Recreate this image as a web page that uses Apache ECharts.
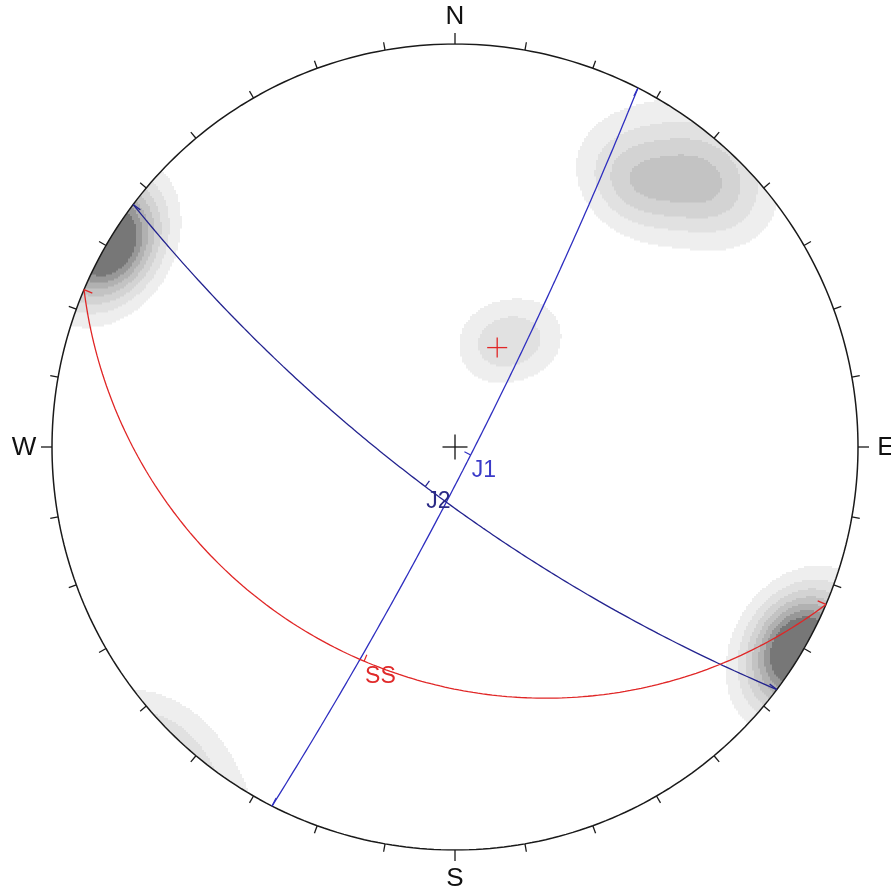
<!DOCTYPE html>
<html><head><meta charset="utf-8">
<script src="https://cdn.jsdelivr.net/npm/echarts@6.0.0/dist/echarts.min.js"></script>
<style>html,body{margin:0;padding:0;background:#fff}#c{width:891px;height:892px}</style>
</head><body><div id="c"></div>
<script>
// ---------------- data ----------------
const cardinalLabels = ['N', 'E', 'S', 'W'];
const cardinalAzimuths = [0, 90, 180, 270];
const tickAzimuths = [0,10,20,30,40,50,60,70,80,90,100,110,120,130,140,150,160,170,180,190,200,210,220,230,240,250,260,270,280,290,300,310,320,330,340,350];
// planes (dip direction / dip, degrees)
const planeNames = ['J1', 'J2', 'SS'];
const planeDipDirections = [117, 217, 203];
const planeDips = [85, 76, 30];
// pole marker (trend / plunge)
const poleTrends = [23];
const polePlunges = [60];
// density concentrations (trend, plunge, weight, spread across, spread along dip)
const kernelTrends = [120.5, 34, 44, 38, 19, 34];
const kernelPlunges = [0.3, 13, 5, 9, 60, 54];
const kernelWeights = [10, 2.6, 3.0, 1.5, 1.85, 1.85];
const kernelSpreadsAz = [6, 6.5, 6.5, 9.5, 7, 7];
const kernelSpreadsDip = [5, 5.5, 5.5, 8.5, 7.5, 7.5];
const contourLevels = [1, 2, 3, 4, 5, 6, 7];

// ---------------- styles ----------------
const levelColors = ['#eeeeee', '#e1e1e1', '#d3d3d3', '#c3c3c3', '#b1b1b1', '#989898', '#777777'];
const planeColors = ['#2f2fc0', '#23238f', '#e02626'];
const labelColors = ['#3a3ac8', '#2a2a85', '#e02a2a'];
const FONT = '"Liberation Sans", Arial, sans-serif';

// ---------------- geometry ----------------
const D2R = Math.PI / 180;
function vec(trend, plunge) {
  const t = trend * D2R, p = plunge * D2R;
  return [Math.cos(p) * Math.sin(t), Math.cos(p) * Math.cos(t), Math.sin(p)];
}
function dot(a, b) { return a[0] * b[0] + a[1] * b[1] + a[2] * b[2]; }
function project(v) { // lower hemisphere equal-angle
  let e = v[0], n = v[1], d = v[2];
  if (d < 0) { e = -e; n = -n; d = -d; }
  return [e / (1 + d), n / (1 + d)];
}

// primitive circle
const circleData = [];
for (let a = 0; a <= 360; a += 1) circleData.push([Math.sin(a * D2R), Math.cos(a * D2R)]);

// great circles
function greatCircle(dd, dip) {
  const s = vec(dd - 90, 0), dv = vec(dd, dip);
  const pts = [];
  for (let a = 0; a <= 180; a += 1) {
    const c = Math.cos(a * D2R), sn = Math.sin(a * D2R);
    pts.push(project([c * s[0] + sn * dv[0], c * s[1] + sn * dv[1], c * s[2] + sn * dv[2]]));
  }
  return pts;
}

// density
const kernels = kernelTrends.map((t, i) => ({
  c: vec(t, kernelPlunges[i]),
  ua: [Math.cos(t * D2R), -Math.sin(t * D2R), 0],
  up: vec(t, kernelPlunges[i] + 90),
  w: kernelWeights[i], sa: kernelSpreadsAz[i], sp: kernelSpreadsDip[i]
}));
function density(v) {
  let s = 0;
  for (const k of kernels) {
    let cc = dot(v, k.c), a = dot(v, k.ua), b = dot(v, k.up);
    if (cc < 0) { cc = -cc; a = -a; b = -b; }
    const ta = Math.atan2(a, cc) / D2R, tb = Math.atan2(b, cc) / D2R;
    s += k.w * Math.exp(-(ta * ta / (2 * k.sa * k.sa) + tb * tb / (2 * k.sp * k.sp)));
  }
  return s;
}
const N = 403, h = 2 / N;
const contourRects = [];
for (let j = 0; j < N; j++) {
  const yc = 1 - (j + 0.5) * h;
  const lev = new Array(N).fill(0);
  for (let i = 0; i < N; i++) {
    const xc = -1 + (i + 0.5) * h;
    const r2 = xc * xc + yc * yc;
    if (r2 > (1 + h) * (1 + h)) continue;
    const k = 1 + r2;
    const d = density([2 * xc / k, 2 * yc / k, (1 - r2) / k]);
    let L = 0;
    for (const t of contourLevels) if (d >= t) L++;
    lev[i] = L;
  }
  for (let L = 1; L <= contourLevels.length; L++) {
    let start = -1;
    for (let i = 0; i <= N; i++) {
      const on = i < N && lev[i] >= L;
      if (on && start < 0) start = i;
      if (!on && start >= 0) {
        contourRects.push([-1 + start * h, -1 + i * h, yc + h / 2, yc - h / 2, L]);
        start = -1;
      }
    }
  }
}
contourRects.sort((a, b) => a[4] - b[4]);

const dipPoints = planeNames.map((n, i) => project(vec(planeDipDirections[i], planeDips[i])).concat([i]));
const endPoints = [];
planeNames.forEach((n, i) => {
  [planeDipDirections[i] - 90, planeDipDirections[i] + 90].forEach(az => {
    endPoints.push([Math.sin(az * D2R), Math.cos(az * D2R), i]);
  });
});
const poleData = poleTrends.map((t, i) => project(vec(t, polePlunges[i])).concat([2, 10]));
poleData.push([0, 0, -1, 12.5]);

const chart = echarts.init(document.getElementById('c'));
const series = [];
series.push({
  type: 'custom', coordinateSystem: 'cartesian2d', data: contourRects, silent: true, z: 1,
  renderItem(params, api) {
    const p0 = api.coord([api.value(0), api.value(2)]);
    const p1 = api.coord([api.value(1), api.value(3)]);
    const c = api.coord([0, 0]), e = api.coord([1, 0]);
    return { type: 'rect', z2: api.value(4),
      shape: { x: p0[0], y: p0[1], width: p1[0] - p0[0], height: p1[1] - p0[1] + 0.4 },
      style: { fill: levelColors[api.value(4) - 1] },
      clipPath: { type: 'circle', shape: { cx: c[0], cy: c[1], r: e[0] - c[0] } } };
  }
});
series.push({
  type: 'line', data: circleData, showSymbol: false, silent: true, z: 3,
  lineStyle: { color: '#1a1a1a', width: 1.5 }
});
series.push({
  type: 'custom', coordinateSystem: 'cartesian2d', z: 3, silent: true,
  data: tickAzimuths.map(a => [Math.sin(a * D2R), Math.cos(a * D2R), a]),
  renderItem(params, api) {
    const c = api.coord([0, 0]);
    const p = api.coord([api.value(0), api.value(1)]);
    let dx = p[0] - c[0], dy = p[1] - c[1]; const L = Math.hypot(dx, dy); dx /= L; dy /= L;
    const az = api.value(2);
    const ci = cardinalAzimuths.indexOf(az);
    const len = ci >= 0 ? 11 : 8;
    const children = [{ type: 'line', shape: { x1: p[0], y1: p[1], x2: p[0] + dx * len, y2: p[1] + dy * len },
      style: { stroke: '#1a1a1a', lineWidth: 1.3 } }];
    if (ci >= 0) {
      const off = 28;
      children.push({ type: 'text', x: p[0] + dx * off, y: p[1] + dy * off + 1,
        style: { text: cardinalLabels[ci], fill: '#111', font: '26px ' + FONT,
          align: 'center', verticalAlign: 'middle', textAlign: 'center', textVerticalAlign: 'middle' } });
    }
    return { type: 'group', children };
  }
});
planeNames.forEach((n, i) => {
  series.push({
    type: 'line', data: greatCircle(planeDipDirections[i], planeDips[i]), showSymbol: false, silent: true, z: 4,
    lineStyle: { color: planeColors[i], width: 1.3 }
  });
});
series.push({
  type: 'custom', coordinateSystem: 'cartesian2d', z: 5, silent: true, data: endPoints,
  renderItem(params, api) {
    const c = api.coord([0, 0]);
    const p = api.coord([api.value(0), api.value(1)]);
    let dx = c[0] - p[0], dy = c[1] - p[1]; const L = Math.hypot(dx, dy); dx /= L; dy /= L;
    return { type: 'line', shape: { x1: p[0], y1: p[1], x2: p[0] + dx * 9, y2: p[1] + dy * 9 },
      style: { stroke: planeColors[api.value(2)], lineWidth: 1.3 } };
  }
});
series.push({
  type: 'custom', coordinateSystem: 'cartesian2d', z: 6, silent: true, data: dipPoints,
  renderItem(params, api) {
    const i = api.value(2);
    const c = api.coord([0, 0]);
    const p = api.coord([api.value(0), api.value(1)]);
    let dx = c[0] - p[0], dy = c[1] - p[1]; const L = Math.hypot(dx, dy) || 1; dx /= L; dy /= L;
    return { type: 'group', children: [
      { type: 'line', shape: { x1: p[0], y1: p[1], x2: p[0] + dx * 7, y2: p[1] + dy * 7 },
        style: { stroke: planeColors[i], lineWidth: 1.2 } },
      { type: 'text', x: p[0] + 1, y: p[1] + 4,
        style: { text: planeNames[i], fill: labelColors[i], font: '23px ' + FONT,
          align: 'left', verticalAlign: 'top', textAlign: 'left', textVerticalAlign: 'top' } }
    ] };
  }
});
series.push({
  type: 'custom', coordinateSystem: 'cartesian2d', z: 7, silent: true, data: poleData,
  renderItem(params, api) {
    const p = api.coord([api.value(0), api.value(1)]);
    const ci = api.value(2), s = api.value(3);
    const col = ci >= 0 ? planeColors[ci] : '#111';
    return { type: 'group', children: [
      { type: 'line', shape: { x1: p[0] - s, y1: p[1], x2: p[0] + s, y2: p[1] }, style: { stroke: col, lineWidth: 1.3 } },
      { type: 'line', shape: { x1: p[0], y1: p[1] - s, x2: p[0], y2: p[1] + s }, style: { stroke: col, lineWidth: 1.3 } }
    ] };
  }
});

chart.setOption({
  animation: false,
  backgroundColor: '#ffffff',
  grid: { left: 52, top: 44, width: 806, height: 806 },
  xAxis: { type: 'value', min: -1, max: 1, show: false },
  yAxis: { type: 'value', min: -1, max: 1, show: false },
  series
});
</script>
</body></html>
